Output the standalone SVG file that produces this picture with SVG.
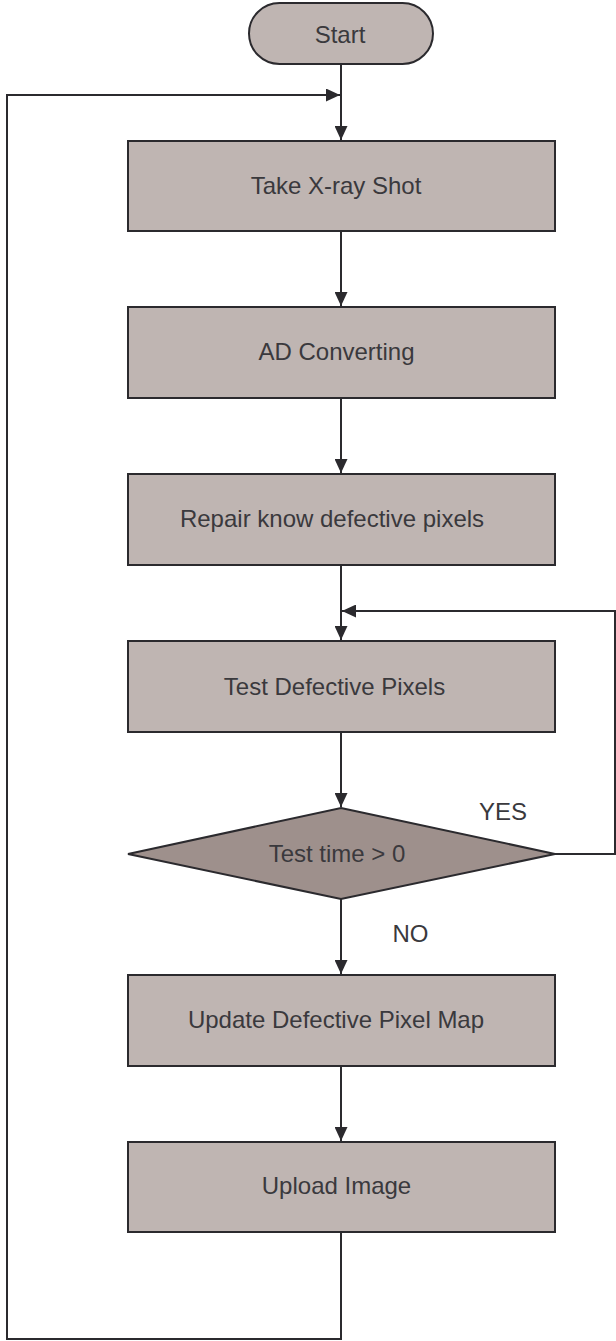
<svg xmlns="http://www.w3.org/2000/svg" width="616" height="1341" viewBox="0 0 616 1341">
  <style>
    .box { fill: #bfb5b2; stroke: #2b2a2e; stroke-width: 2; }
    .dec { fill: #9e908c; stroke: #2b2a2e; stroke-width: 2; }
    .lbl { font-family: "Liberation Sans", Arial, sans-serif; font-size: 24px; fill: #3a393d; text-anchor: middle; }
    .edge { fill: none; stroke: #2b2a2e; stroke-width: 2; }
  </style>
  <defs>
    <marker id="arrow" viewBox="0 0 14 13" refX="14" refY="6.5" markerWidth="14" markerHeight="13" markerUnits="userSpaceOnUse" orient="auto">
      <path d="M0,0 L14,6.5 L0,13 Z" fill="#2b2a2e"/>
    </marker>
  </defs>

  <rect width="616" height="1341" fill="#ffffff"/>

  <g id="connectors">
    <line class="edge" x1="341" y1="64" x2="341" y2="140" marker-end="url(#arrow)"/>
    <line class="edge" x1="341" y1="231" x2="341" y2="306" marker-end="url(#arrow)"/>
    <line class="edge" x1="341" y1="398" x2="341" y2="473" marker-end="url(#arrow)"/>
    <line class="edge" x1="341" y1="565" x2="341" y2="640" marker-end="url(#arrow)"/>
    <line class="edge" x1="341" y1="732" x2="341" y2="807" marker-end="url(#arrow)"/>
    <line class="edge" x1="341" y1="899" x2="341" y2="974" marker-end="url(#arrow)"/>
    <line class="edge" x1="341" y1="1066" x2="341" y2="1141" marker-end="url(#arrow)"/>
    <!-- return path from the last step back to the top -->
    <polyline class="edge" points="341,1232 341,1339 7,1339 7,95 340,95" marker-end="url(#arrow)"/>
    <!-- YES branch back to the test step -->
    <polyline class="edge" points="555,854 615,854 615,611 342,611" marker-end="url(#arrow)"/>
  </g>

  <g id="start">
    <rect class="box" x="249" y="3" width="184" height="61" rx="30.5" ry="30.5"/>
    <text class="lbl" x="340" y="43">Start</text>
  </g>

  <g id="take-xray">
    <rect class="box" x="128" y="141" width="427" height="90"/>
    <text class="lbl" x="336" y="194">Take X-ray Shot</text>
  </g>

  <g id="ad-converting">
    <rect class="box" x="128" y="307" width="427" height="91"/>
    <text class="lbl" x="336.5" y="360">AD Converting</text>
  </g>

  <g id="repair">
    <rect class="box" x="128" y="474" width="427" height="91"/>
    <text class="lbl" x="332" y="527">Repair know defective pixels</text>
  </g>

  <g id="test-defective">
    <rect class="box" x="128" y="641" width="427" height="91"/>
    <text class="lbl" x="334.5" y="695">Test Defective Pixels</text>
  </g>

  <g id="test-time">
    <polygon class="dec" points="341,808 555,854 341,899 128,854"/>
    <text class="lbl" x="337" y="862">Test time &gt; 0</text>
  </g>

  <g id="branch-labels">
    <text class="lbl" x="503" y="820">YES</text>
    <text class="lbl" x="410.5" y="942">NO</text>
  </g>

  <g id="update-map">
    <rect class="box" x="128" y="975" width="427" height="91"/>
    <text class="lbl" x="336" y="1028">Update Defective Pixel Map</text>
  </g>

  <g id="upload">
    <rect class="box" x="128" y="1142" width="427" height="90"/>
    <text class="lbl" x="336.5" y="1194">Upload Image</text>
  </g>
</svg>
